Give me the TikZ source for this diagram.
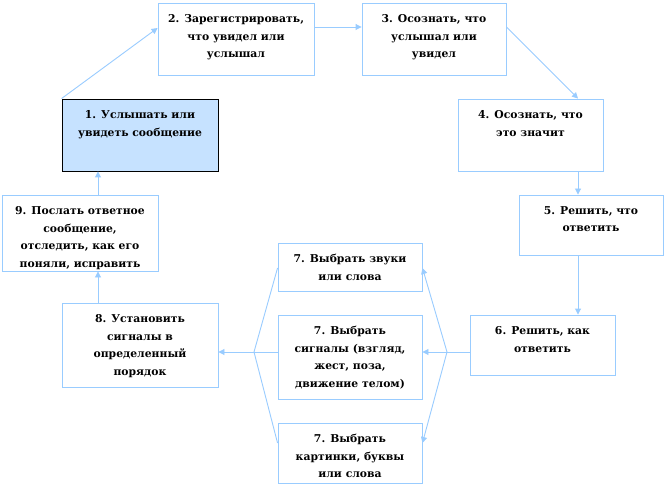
\documentclass[tikz,border=0pt]{standalone}
\usepackage{fontspec}
\newfontfamily\tnrfont{DejaVu Serif}
\usetikzlibrary{arrows.meta,calc}
\definecolor{lblue}{HTML}{99CCFF}
\definecolor{fillblue}{HTML}{C6E2FF}
\newcommand\bxt[3]{\parbox[c][#2pt][t]{#1pt}{\centering\vspace*{11.5pt}#3\par}}
\begin{document}
\begin{tikzpicture}[x=1pt,y=-1pt,
  stepbox/.style={draw=lblue,line width=0.9pt,inner sep=0pt,fill=white,
    font=\tnrfont\fontsize{10.8}{17.5}\selectfont\bfseries},
  firstbox/.style={stepbox,draw=black,fill=fillblue},
  arr/.style={draw=lblue,line width=0.9pt,-{Triangle[length=6pt,width=6pt]}},
  ln/.style={draw=lblue,line width=0.9pt}]
\useasboundingbox[fill=white] (0,0) rectangle (666,486);
\node[firstbox] (n1) at (140,135) {\bxt{156}{72}{1. Услышать или\\увидеть сообщение}};
\node[stepbox] (n2) at (236,39) {\bxt{156}{72}{2. Зарегистрировать,\\что увидел или\\услышал}};
\node[stepbox] (n3) at (434,39) {\bxt{144}{72}{3. Осознать, что\\услышал или\\увидел}};
\node[stepbox] (n4) at (530.5,135) {\bxt{145}{72}{4. Осознать, что\\это значит}};
\node[stepbox] (n5) at (591,225) {\bxt{144}{60}{5. Решить, что\\ответить}};
\node[stepbox] (n6) at (542.5,345) {\bxt{145}{60}{6. Решить, как\\ответить}};
\node[stepbox] (n7a) at (350,267) {\bxt{144}{48}{7. Выбрать звуки\\или слова}};
\node[stepbox] (n7b) at (350,357) {\bxt{144}{84}{7. Выбрать\\сигналы (взгляд,\\жест, поза,\\движение телом)}};
\node[stepbox] (n7c) at (350,453) {\bxt{144}{60}{7. Выбрать\\картинки, буквы\\или слова}};
\node[stepbox] (n8) at (140,345) {\bxt{156}{84}{8. Установить\\сигналы в\\определенный\\порядок}};
\node[stepbox] (n9) at (80,233) {\bxt{156}{76}{9. Послать ответное\\сообщение,\\отследить, как его\\поняли, исправить}};
\coordinate (b1) at (447,352);
\coordinate (b2) at (254,352);
\draw[arr] (n1.north west) -- ([yshift=11pt]n2.west);
\draw[arr] ([yshift=12pt]n2.east) -- ([yshift=12pt]n3.west);
\draw[arr] ([yshift=12pt]n3.east) -- ([xshift=47.5pt]n4.north);
\draw[arr] ([xshift=47.5pt]n4.south) -- ([xshift=47.5pt]n4.south |- n5.north);
\draw[arr] ([xshift=-13pt]n5.south) -- ([xshift=-13pt]n5.south |- n6.north);
\draw[ln] ([yshift=-7pt]n6.west) -- (b1);
\draw[arr] (b1) -- (b1 -| n7b.east);
\draw[arr] (b1) -- ([yshift=-1pt]n7a.east);
\draw[arr] (b1) -- ([yshift=10pt]n7c.east);
\draw[ln] ([yshift=-1pt]n7a.west) -- (b2);
\draw[ln] (b2 -| n7b.west) -- (b2);
\draw[ln] ([yshift=10pt]n7c.west) -- (b2);
\draw[arr] (b2) -- (b2 -| n8.east);
\draw[arr] ([xshift=-42pt]n8.north) -- ([xshift=-42pt]n8.north |- n9.south);
\draw[arr] ([xshift=18pt]n9.north) -- ([xshift=18pt]n9.north |- n1.south);
\end{tikzpicture}
\end{document}
